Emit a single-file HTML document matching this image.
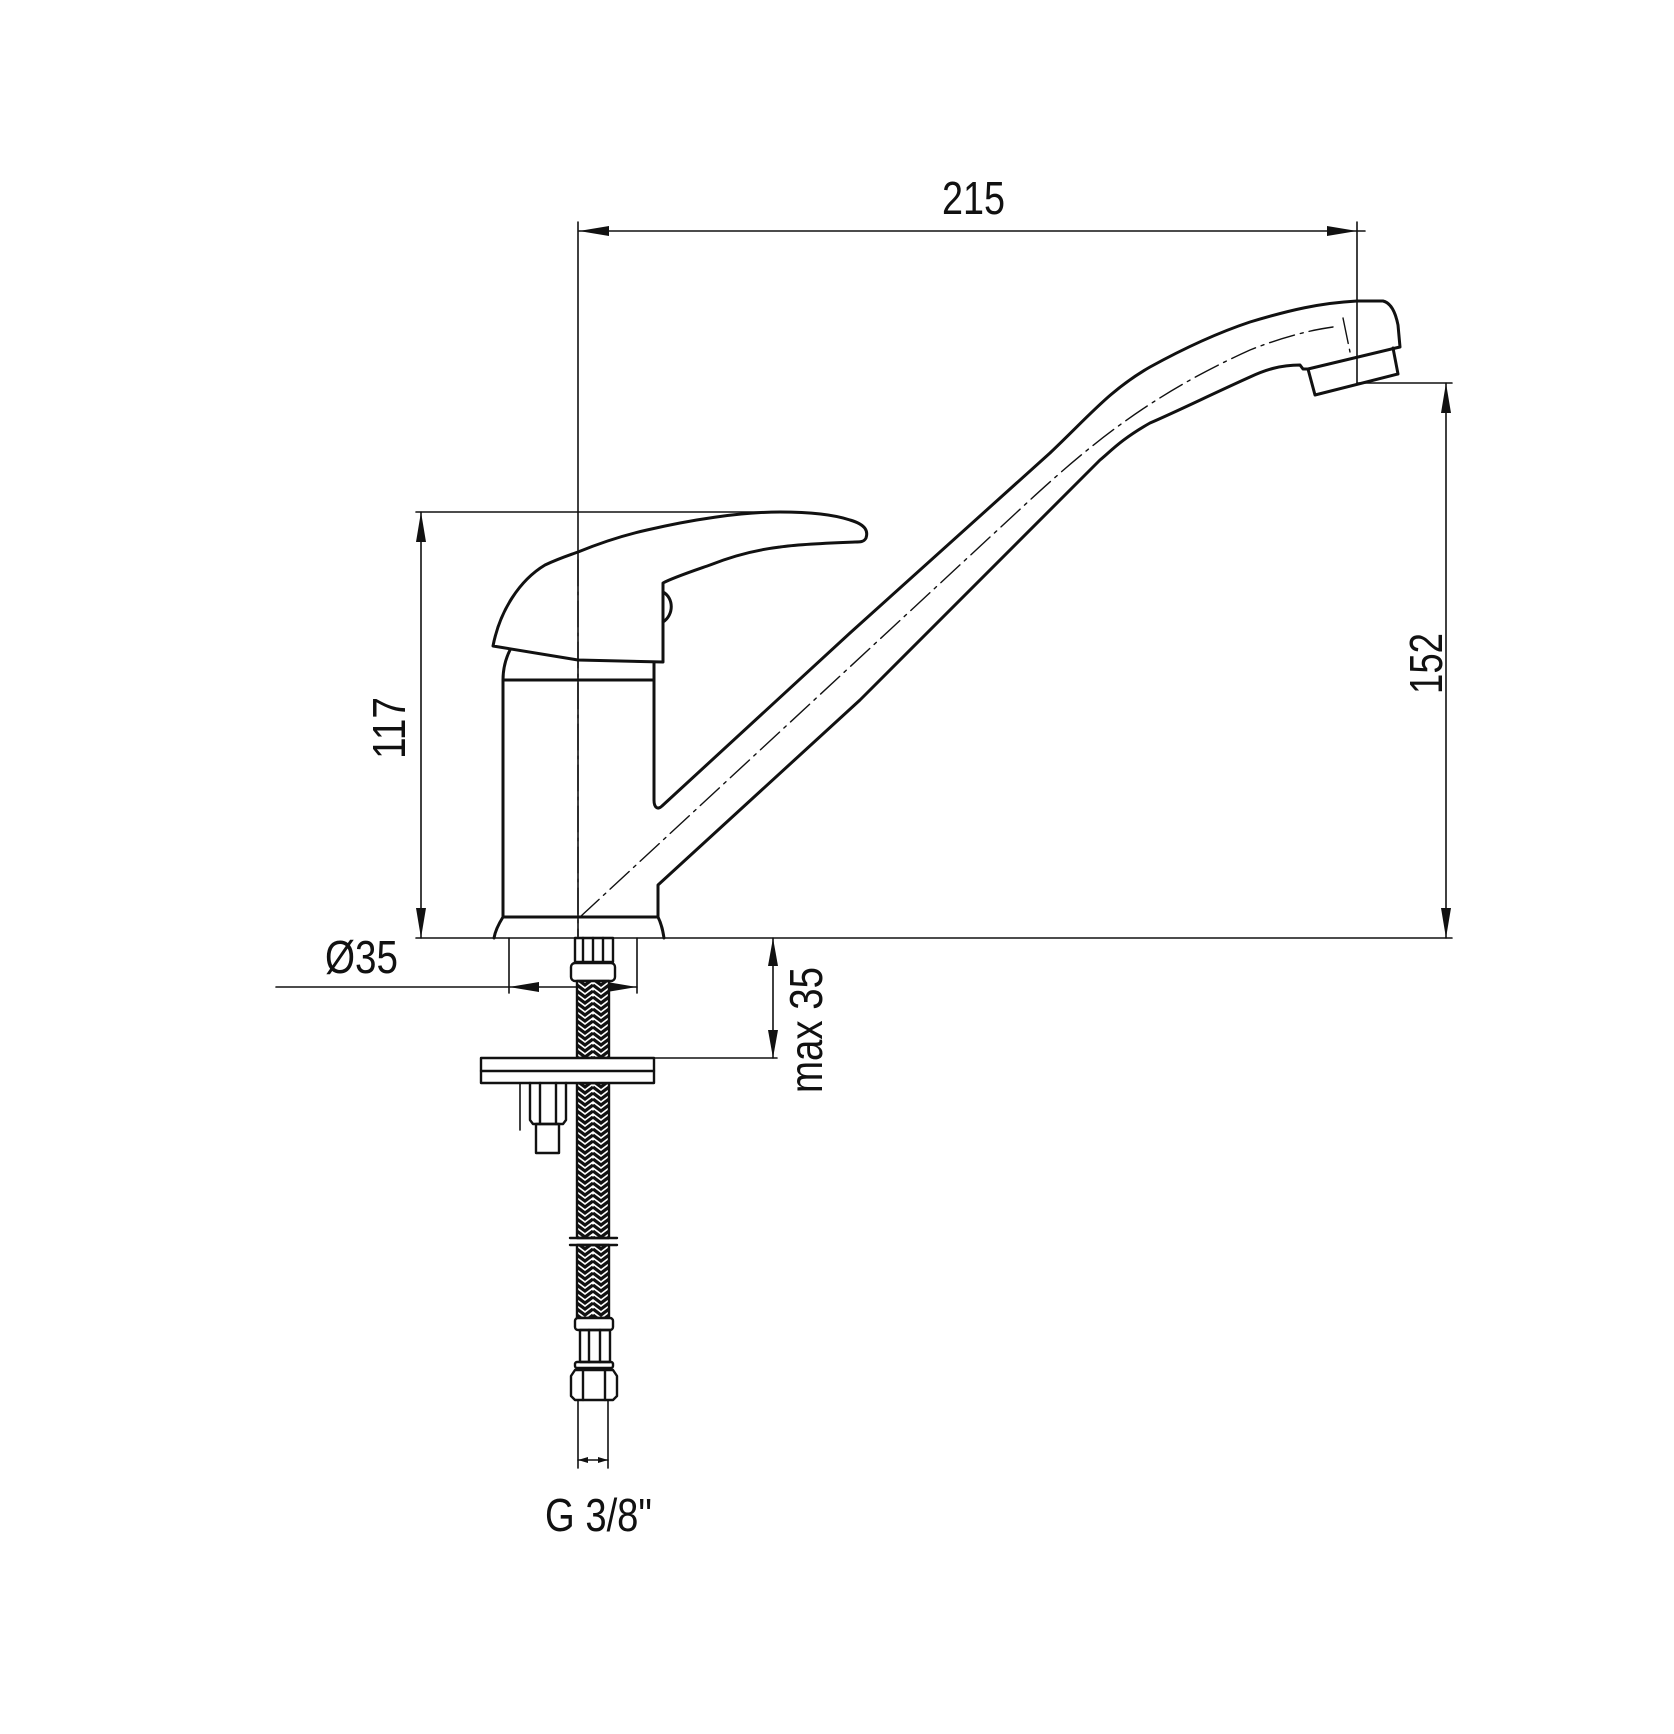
<!DOCTYPE html>
<html><head><meta charset="utf-8"><style>html,body{margin:0;padding:0;background:#fff}svg{display:block}</style></head>
<body>
<svg width="1674" height="1734" viewBox="0 0 1674 1734" xmlns="http://www.w3.org/2000/svg">
<defs>
<pattern id="braid" width="16" height="12" patternUnits="userSpaceOnUse" x="577" y="0">
<rect width="16" height="12" fill="#fff"/>
<path d="M0 1 L8 7 L16 1 M0 7 L8 13 L16 7 M0 -5 L8 1 L16 -5" stroke="#111" stroke-width="3.2" fill="none"/>
</pattern>
</defs>
<g fill="none" stroke="#111" stroke-linejoin="round" stroke-linecap="round">
<g stroke-width="1.6">
<line x1="578" y1="222" x2="578" y2="940"/>
<line x1="579" y1="231" x2="1365" y2="231"/>
<line x1="1357" y1="222" x2="1357" y2="383"/>
<line x1="1357" y1="383" x2="1452" y2="383"/>
<line x1="1446" y1="383" x2="1446" y2="938"/>
<line x1="416" y1="938" x2="1452" y2="938"/>
<line x1="416" y1="512" x2="780" y2="512"/>
<line x1="421" y1="512" x2="421" y2="938"/>
<line x1="276" y1="987" x2="637" y2="987"/>
<line x1="509" y1="938" x2="509" y2="993"/>
<line x1="637" y1="938" x2="637" y2="993"/>
<line x1="773" y1="938" x2="773" y2="1058"/>
<line x1="654" y1="1058" x2="777" y2="1058"/>
<line x1="520" y1="1083" x2="520" y2="1130"/>
<line x1="578" y1="1460" x2="608" y2="1460"/>
</g>
<g fill="#111" stroke="none">
<polygon points="579,231 609,226 609,236"/>
<polygon points="1357,231 1327,226 1327,236"/>
<polygon points="421,512 416,542 426,542"/>
<polygon points="421,938 416,908 426,908"/>
<polygon points="1446,383 1441,413 1451,413"/>
<polygon points="1446,938 1441,908 1451,908"/>
<polygon points="509,987 539,982 539,992"/>
<polygon points="637,987 607,982 607,992"/>
<polygon points="773,938 768,966 778,966"/>
<polygon points="773,1058 768,1030 778,1030"/>
<polygon points="578,1460 588,1457 588,1463"/>
<polygon points="608,1460 598,1457 598,1463"/>
</g>
<g stroke-width="1.4" stroke-dasharray="26,6,3,6">
<line x1="578" y1="560" x2="578" y2="936"/>
<path d="M580 917 L1030 500 C1090 445 1150 395 1250 350 C1280 338 1310 330 1333 327"/>
<line x1="1343" y1="318" x2="1350" y2="352"/>
</g>
<g stroke-width="3">
<path d="M493 646 C500 610 520 580 545 565 C560 558 570 555 578 552 C600 543 620 536 647 530 C690 520 740 512 780 512 C810 512 835 515 850 520 C867 525 868 532 866 538 C864 542 860 542 855 542 C830 543 800 544 780 547 C755 550 730 557 710 565 C690 572 672 578 663 583 L663 662 L578 660 Z"/>
<path d="M663 592 C674 598 674 615 663 622"/>
<path d="M510 650 C505 660 503 670 503 680 L503 917"/>
<path d="M654 662 L654 800 C654 808 658 810 662 806 L850 633 L1050 453 C1090 415 1110 390 1150 367 C1190 345 1220 332 1250 322 C1290 310 1320 303 1357 301 L1383 301 C1392 303 1396 315 1398 325 L1400 347 L1308 369 L1303 369 L1300 365 C1280 365 1265 370 1250 377 C1210 395 1180 410 1150 423 C1120 440 1110 452 1100 460 L860 700 L658 885 L658 917"/>
<line x1="503" y1="680" x2="654" y2="680"/>
<path d="M503 917 L658 917 C662 925 663 932 664 938 M503 917 C498 925 495 932 494 938"/>
<path d="M1308 369 L1315 395 L1398 374 L1393 348"/>
</g>
<g stroke-width="2.4">
<rect x="575" y="938" width="38" height="24" fill="#fff"/>
<line x1="583" y1="938" x2="583" y2="962"/><line x1="593" y1="938" x2="593" y2="962"/><line x1="603" y1="938" x2="603" y2="962"/>
<rect x="571" y="963" width="44" height="18" rx="4" fill="#fff"/>
<rect x="577" y="981" width="32" height="77" fill="url(#braid)"/>
<rect x="577" y="1083" width="32" height="155" fill="url(#braid)"/>
<rect x="577" y="1245" width="32" height="73" fill="url(#braid)"/>
<rect x="481" y="1058" width="173" height="25" fill="#fff"/>
<line x1="481" y1="1071" x2="654" y2="1071"/>
<path d="M530 1083 L530 1120 L533 1124 L563 1124 L566 1120 L566 1083"/>
<line x1="540" y1="1083" x2="540" y2="1124"/><line x1="556" y1="1083" x2="556" y2="1124"/>
<rect x="536" y="1124" width="23" height="29"/>
<line x1="570" y1="1238" x2="617" y2="1238"/><line x1="570" y1="1245" x2="617" y2="1245"/>
<rect x="575" y="1318" width="38" height="12" rx="3" fill="#fff"/>
<rect x="580" y="1330" width="30" height="32"/>
<line x1="589" y1="1330" x2="589" y2="1362"/><line x1="600" y1="1330" x2="600" y2="1362"/>
<rect x="575" y="1362" width="38" height="6" rx="2"/>
<path d="M575 1370 L613 1370 L617 1376 L617 1396 L613 1400 L575 1400 L571 1396 L571 1376 Z"/>
<line x1="583" y1="1370" x2="583" y2="1400"/><line x1="605" y1="1370" x2="605" y2="1400"/>
</g>
<g stroke-width="1.6"><line x1="578" y1="1400" x2="578" y2="1468"/><line x1="608" y1="1400" x2="608" y2="1468"/></g>
</g>
<g font-family="Liberation Sans, sans-serif" font-size="46" fill="#111">
<text x="942" y="214" textLength="63" lengthAdjust="spacingAndGlyphs">215</text>
<text x="325" y="973" textLength="73" lengthAdjust="spacingAndGlyphs">Ø35</text>
<text x="545" y="1531" textLength="107" lengthAdjust="spacingAndGlyphs">G 3/8"</text>
<text transform="translate(405,759) rotate(-90)" textLength="62" lengthAdjust="spacingAndGlyphs">117</text>
<text transform="translate(1442,694) rotate(-90)" textLength="61" lengthAdjust="spacingAndGlyphs">152</text>
<text transform="translate(822,1093) rotate(-90)" textLength="126" lengthAdjust="spacingAndGlyphs">max 35</text>
</g>
</svg>
</body></html>
